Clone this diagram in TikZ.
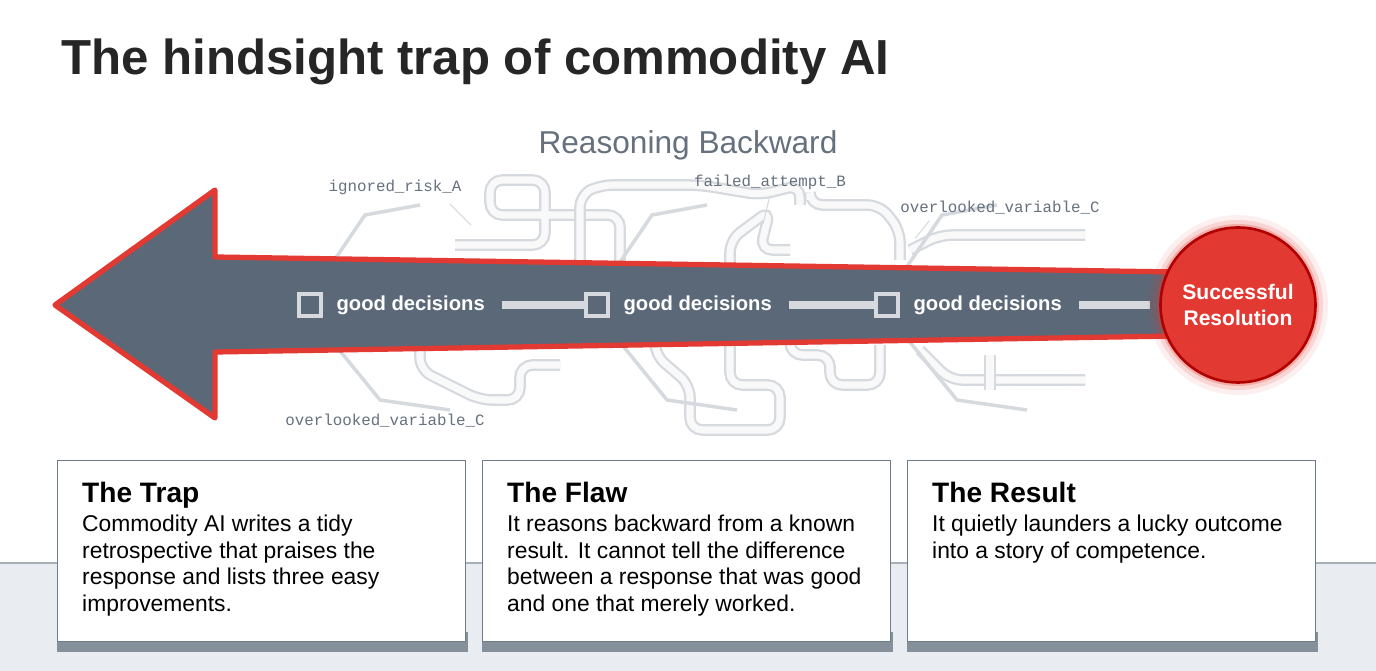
\documentclass[tikz,border=0pt]{standalone}
\usepackage{fontspec}
\setmainfont{Liberation Sans}
\setmonofont{Liberation Mono}
\usepackage{tikz}
\usetikzlibrary{positioning}

\definecolor{slate}{HTML}{5A6878}
\definecolor{trapred}{HTML}{E23A33}
\definecolor{pipegray}{HTML}{D6DADF}
\definecolor{bandgray}{HTML}{E9ECF0}
\definecolor{boxedge}{HTML}{6F7C89}
\definecolor{labelgray}{HTML}{66717D}

\begin{document}
\begin{tikzpicture}[x=0.02cm, y=-0.02cm, every node/.style={font=\sffamily}]

\tikzset{pipe/.style={draw=pipegray, line width=1.3pt, rounded corners=7pt, double=white!95!gray, double distance=4pt}}
\tikzset{codelabel/.style={font=\ttfamily\fontsize{9}{10}\selectfont, text=labelgray}}
\tikzset{stepsquare/.style={draw=pipegray, line width=2.2pt, minimum size=13pt, inner sep=0pt}}
\tikzset{goodtext/.style={font=\bfseries\fontsize{11.5}{13}\selectfont, text=white, anchor=west}}
\tikzset{cardbox/.style={draw=boxedge, line width=0.8pt, fill=white, minimum width=232pt, minimum height=103pt, anchor=north west, inner sep=0pt}}
\tikzset{cardtext/.style={align=left, anchor=north west, font=\fontsize{13}{15.3}\selectfont}}

% frame and background band
\useasboundingbox (0,0) rectangle (1376,671);
\fill[white] (0,0) rectangle (1376,671);
\fill[bandgray] (0,563) rectangle (1376,671);
\draw[boxedge!60, line width=0.6pt] (0,563) -- (1376,563);

% title
\node[anchor=west, font=\bfseries\fontsize{28}{34}\selectfont, text=black!85] (title) at (55,62) {The hindsight trap of commodity AI};
\node[font=\fontsize{18}{22}\selectfont, text=labelgray] (heading) at (688,145) {Reasoning Backward};

% tangled background pipes
\draw[pipe] (455,245) -- (545,245) -- (545,180) -- (490,180) -- (490,215) -- (620,215) -- (620,305);
\draw[pipe] (580,275) -- (580,195) -- (600,185) -- (700,185) -- (760,195) -- (800,185) -- (800,205);
\draw[pipe] (655,300) -- (655,355) -- (690,385) -- (690,430) -- (780,430) -- (780,385) -- (730,385) -- (730,340);
\draw[pipe] (420,345) -- (420,370) -- (480,400) -- (520,400) -- (520,365) -- (560,365);
\draw[pipe] (730,265) -- (730,240) -- (770,210) -- (760,250) -- (790,250);
\draw[pipe] (790,330) -- (790,355) -- (830,355) -- (830,385) -- (880,385) -- (880,345);
\draw[pipe] (810,200) -- (810,205) -- (880,205) -- (900,230) -- (900,260);
\draw[pipe] (910,250) -- (940,235) -- (1085,235);
\draw[pipe] (920,350) -- (950,380) -- (1085,380);
\draw[pipe] (990,355) -- (990,390);

% branch lines of the decision points
\foreach \sx in {310,597,887} {
  \draw[pipegray, line width=2pt] (\sx,296) -- (\sx+55,215) -- (\sx+110,205);
  \draw[pipegray, line width=2pt] (\sx,314) -- (\sx+70,400) -- (\sx+140,410);
}

% the big arrow
\draw[trapred, line width=3pt, fill=slate, line join=round]
  (55,305) -- (215,190) -- (215,257) -- (1175,272) -- (1175,336) -- (215,352) -- (215,418) -- cycle;

% decision points
\node[stepsquare] (sqA) at (310,305) {};
\node[goodtext, right=4pt of sqA] (goodA) {good decisions};
\node[stepsquare] (sqB) at (597,305) {};
\node[goodtext, right=4pt of sqB] (goodB) {good decisions};
\node[stepsquare] (sqC) at (887,305) {};
\node[goodtext, right=4pt of sqC] (goodC) {good decisions};
\coordinate (tailC) at (1150,305);
\draw[pipegray, line width=5pt] (goodA.east) ++(6pt,0) -- (sqB.west);
\draw[pipegray, line width=5pt] (goodB.east) ++(6pt,0) -- (sqC.west);
\draw[pipegray, line width=5pt] (goodC.east) ++(6pt,0) -- (tailC);

% resolution
\foreach \r/\o in {90/0.08,85/0.15,81/0.25} {
  \fill[trapred, opacity=\o] (1238,305) circle (\r);
}
\node[circle, fill=trapred, draw=red!70!black, line width=1.5pt, minimum size=3.1cm, align=center, text=white, font=\bfseries\fontsize{12}{14.5}\selectfont] (resolution) at (1238,305) {Successful\\Resolution};

% code labels
\node[codelabel] (riskA) at (395,187) {ignored\_risk\_A};
\node[codelabel] (attemptB) at (770,182) {failed\_attempt\_B};
\node[codelabel] (varC) at (1000,208) {overlooked\_variable\_C};
\node[codelabel] (varCbot) at (385,421) {overlooked\_variable\_C};
\draw[pipegray, line width=0.6pt] (riskA.south east) ++(-10pt,-2pt) -- ++(12pt,-12pt);
\draw[pipegray, line width=0.6pt] (attemptB.south) -- ++(-4pt,-16pt);
\draw[pipegray, line width=0.6pt] (varC.south west) ++(20pt,0) -- ++(-8pt,-10pt);

% cards
\foreach \cx/\cname in {57/trap,482/flaw,907/result} {
  \fill[boxedge!85] (\cx,632) rectangle ++(411,20);
  \node[cardbox] (\cname) at (\cx,460) {};
}
\node[cardtext] (trapText) at (76,476) {{\bfseries\fontsize{16}{20}\selectfont The Trap}\\[1pt]Commodity AI writes a tidy\\retrospective that praises the\\response and lists three easy\\improvements.};
\node[cardtext] (flawText) at (501,476) {{\bfseries\fontsize{16}{20}\selectfont The Flaw}\\[1pt]It reasons backward from a known\\result. It cannot tell the difference\\between a response that was good\\and one that merely worked.};
\node[cardtext] (resultText) at (926,476) {{\bfseries\fontsize{16}{20}\selectfont The Result}\\[1pt]It quietly launders a lucky outcome\\into a story of competence.};

\end{tikzpicture}
\end{document}
